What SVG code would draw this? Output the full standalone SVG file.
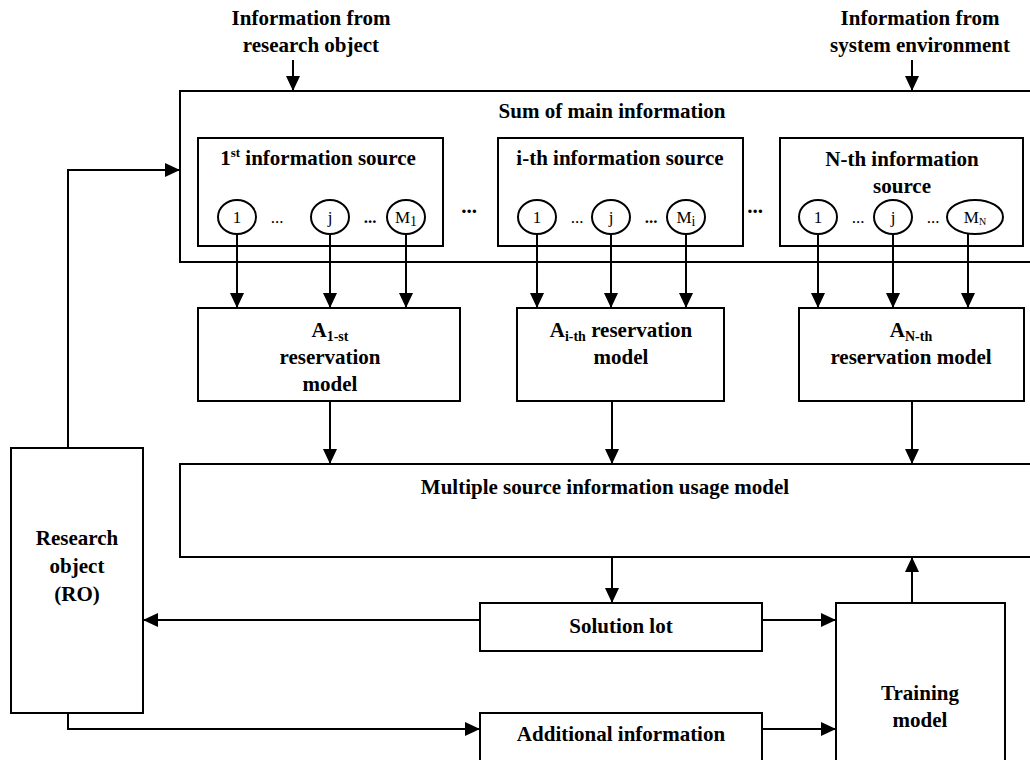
<svg xmlns="http://www.w3.org/2000/svg" width="1030" height="760" viewBox="0 0 1030 760" font-family="'Liberation Serif', 'Times New Roman', Times, 'DejaVu Serif', serif">
<defs>
<marker id="ah" markerUnits="userSpaceOnUse" markerWidth="15" markerHeight="14" refX="15" refY="7" orient="auto">
<path d="M0,0 L15,7 L0,14 z" fill="#000"/>
</marker>
<style>
.n rect, .n ellipse { fill: #fff; stroke: #000; stroke-width: 2; }
.c line, .c polyline { stroke: #000; stroke-width: 2; fill: none; marker-end: url(#ah); }
text { font-family: 'Liberation Serif', 'Times New Roman', Times, 'DejaVu Serif', serif; fill: #000; text-anchor: middle; }
.b { font-weight: bold; font-size: 21px; }
.s { font-size: 17px; }
.sub { font-size: 14px; }
</style>
</defs>
<rect width="1030" height="760" style="fill:#fff;stroke:none"/>

<g class="n">
<g id="sum">
<rect x="180" y="91" width="870" height="171"/>
<text class="b" x="612" y="118">Sum of main information</text>
<text class="b" x="469" y="213">...</text>
<text class="b" x="755" y="213">...</text>
</g>

<g id="source1">
<rect x="198" y="138" width="245" height="108"/>
<text class="b" x="318" y="165">1<tspan style="font-size:13px" dy="-8">st</tspan><tspan dy="8"> information source</tspan></text>
<ellipse cx="237" cy="217" rx="19" ry="17"/>
<text class="s" x="237" y="223">1</text>
<text class="s" x="277" y="223">...</text>
<ellipse cx="330" cy="217" rx="19" ry="17"/>
<text class="s" x="330" y="223">j</text>
<text class="b" x="370" y="223" style="font-size:17px">...</text>
<ellipse cx="406" cy="217" rx="19" ry="17"/>
<text class="s" x="406" y="223">M<tspan class="sub" dy="3">1</tspan></text>
</g>

<g id="sourcei">
<rect x="498" y="138" width="245" height="108"/>
<text class="b" x="620" y="165">i-th information source</text>
<ellipse cx="537" cy="217" rx="19" ry="17"/>
<text class="s" x="537" y="223">1</text>
<text class="s" x="577" y="223">...</text>
<ellipse cx="611" cy="217" rx="19" ry="17"/>
<text class="s" x="611" y="223">j</text>
<text class="b" x="651" y="223" style="font-size:17px">...</text>
<ellipse cx="686" cy="217" rx="19" ry="17"/>
<text class="s" x="686" y="223">M<tspan class="sub" dy="3">i</tspan></text>
</g>

<g id="sourceN">
<rect x="780" y="138" width="243" height="108"/>
<text class="b" x="902" y="166">N-th information</text>
<text class="b" x="902" y="193">source</text>
<ellipse cx="818" cy="217" rx="19" ry="17"/>
<text class="s" x="818" y="223">1</text>
<text class="s" x="858" y="223">...</text>
<ellipse cx="893" cy="217" rx="19" ry="17"/>
<text class="s" x="893" y="223">j</text>
<text class="s" x="933" y="223">...</text>
<ellipse cx="975" cy="217" rx="28" ry="17"/>
<text class="s" x="975" y="223">M<tspan style="font-size:10px" dy="2">N</tspan></text>
</g>

<g id="info-ro">
<text class="b" x="311" y="25">Information from</text>
<text class="b" x="311" y="52">research object</text>
</g>
<g id="info-env">
<text class="b" x="920" y="25">Information from</text>
<text class="b" x="920" y="52">system environment</text>
</g>

<g id="model1">
<rect x="198" y="308" width="262" height="93"/>
<text class="b" x="330" y="337">A<tspan class="sub" dy="4">1-st</tspan></text>
<text class="b" x="330" y="364">reservation</text>
<text class="b" x="330" y="391">model</text>
</g>

<g id="modeli">
<rect x="517" y="308" width="207" height="93"/>
<text class="b" x="621" y="337">A<tspan class="sub" dy="4">i-th</tspan><tspan dy="-4"> reservation</tspan></text>
<text class="b" x="621" y="364">model</text>
</g>

<g id="modelN">
<rect x="799" y="308" width="225" height="93"/>
<text class="b" x="911" y="337">A<tspan class="sub" dy="4">N-th</tspan></text>
<text class="b" x="911" y="364">reservation model</text>
</g>

<g id="multiple">
<rect x="180" y="464" width="870" height="93"/>
<text class="b" x="605" y="494">Multiple source information usage model</text>
</g>

<g id="ro">
<rect x="11" y="448" width="132" height="265"/>
<text class="b" x="77" y="545">Research</text>
<text class="b" x="77" y="573">object</text>
<text class="b" x="77" y="601">(RO)</text>
</g>

<g id="solution">
<rect x="480" y="603" width="282" height="48"/>
<text class="b" x="621" y="633">Solution lot</text>
</g>

<g id="additional">
<rect x="480" y="713" width="282" height="60"/>
<text class="b" x="621" y="741">Additional information</text>
</g>

<g id="training">
<rect x="836" y="603" width="169" height="170"/>
<text class="b" x="920" y="700">Training</text>
<text class="b" x="920" y="727">model</text>
</g>
</g>

<g id="connectors" class="c">
<line x1="293" y1="60" x2="293" y2="91"/>
<line x1="912" y1="60" x2="912" y2="91"/>
<line x1="237" y1="234" x2="237" y2="308"/>
<line x1="330" y1="234" x2="330" y2="308"/>
<line x1="406" y1="234" x2="406" y2="308"/>
<line x1="537" y1="234" x2="537" y2="308"/>
<line x1="611" y1="234" x2="611" y2="308"/>
<line x1="686" y1="234" x2="686" y2="308"/>
<line x1="818" y1="234" x2="818" y2="308"/>
<line x1="893" y1="234" x2="893" y2="308"/>
<line x1="968" y1="234" x2="968" y2="308"/>
<line x1="330" y1="401" x2="330" y2="464"/>
<line x1="612" y1="401" x2="612" y2="464"/>
<line x1="912" y1="401" x2="912" y2="464"/>
<line x1="612" y1="557" x2="612" y2="603"/>
<line x1="912" y1="603" x2="912" y2="557"/>
<line x1="480" y1="620" x2="143" y2="620"/>
<line x1="762" y1="620" x2="836" y2="620"/>
<line x1="762" y1="729" x2="836" y2="729"/>
<polyline points="68,448 68,170 180,170"/>
<polyline points="68,713 68,729 480,729"/>
</g>
</svg>
